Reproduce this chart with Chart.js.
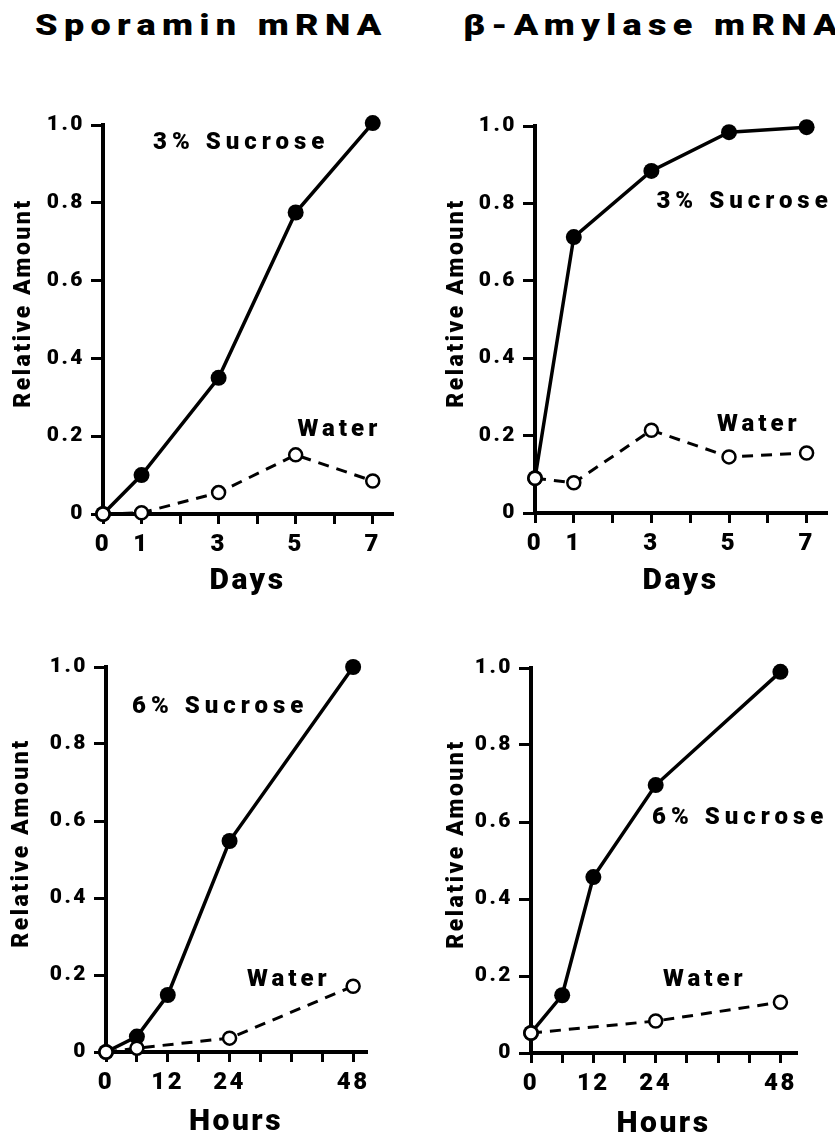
<!DOCTYPE html>
<html>
<head>
<meta charset="utf-8">
<title>Sporamin and β-Amylase mRNA</title>
<script src="https://cdn.jsdelivr.net/npm/chart.js@4.4.1/dist/chart.umd.min.js"></script>
<style>
    html, body { margin: 0; padding: 0; background: #fff; }
    body { width: 835px; height: 1138px; position: relative; overflow: hidden; }
    .title {
        position: absolute;
        font-family: Roboto, "Liberation Sans", sans-serif;
        font-weight: 900;
        font-size: 30px;
        line-height: 30px;
        letter-spacing: 5.3px;
        white-space: nowrap;
        color: #000;
        transform: scaleX(1.2);
        transform-origin: left top;
    }
    canvas { position: absolute; }
</style>
</head>
<body>
<div class="title" style="left:35px; top:10px;">Sporamin mRNA</div>
<div class="title" style="left:463px; top:10px;">β-Amylase mRNA</div>

<canvas id="sporaminDays" width="418" height="510" style="left:0; top:95px;"></canvas>
<canvas id="amylaseDays" width="415" height="510" style="left:420px; top:95px;"></canvas>
<canvas id="sporaminHours" width="418" height="505" style="left:0; top:637px;"></canvas>
<canvas id="amylaseHours" width="415" height="505" style="left:420px; top:637px;"></canvas>

<script>
// x values
const days = [0, 1, 3, 5, 7];
const hours = [0, 6, 12, 24, 48];
const sporaminHoursWaterX = [0, 6, 24, 48];
const amylaseHoursWaterX = [0, 24, 48];

// relative amounts
const sporaminDaysSucrose = [0, 0.10, 0.35, 0.775, 1.005];
const sporaminDaysWater = [0, 0.003, 0.055, 0.152, 0.085];
const amylaseDaysSucrose = [0.09, 0.713, 0.884, 0.984, 0.997];
const amylaseDaysWater = [0.09, 0.078, 0.214, 0.145, 0.155];
const sporaminHoursSucrose = [0, 0.04, 0.148, 0.548, 1.0];
const sporaminHoursWater = [0, 0.01, 0.036, 0.171];
const amylaseHoursSucrose = [0.052, 0.15, 0.457, 0.696, 0.99];
const amylaseHoursWater = [0.052, 0.083, 0.132];

// labelled ticks
const dayTickLabels = [0, 1, 3, 5, 7];
const hourTickLabels = [0, 12, 24, 48];

const FONT = 'Roboto, "Liberation Sans", sans-serif';
const WEIGHT = 900;

function toPoints(xs, ys) {
    return xs.map((x, i) => ({ x: x, y: ys[i] }));
}

// the figure's lettering is widely tracked; canvas resets state on resize, so set it each pass
const trackingPlugin = {
    id: 'tracking',
    beforeUpdate(chart, args, opts) { chart.ctx.letterSpacing = opts.px + 'px'; },
    beforeDraw(chart, args, opts) { chart.ctx.letterSpacing = opts.px + 'px'; }
};

// draws the "3% Sucrose" / "Water" captions at data coordinates
const captionPlugin = {
    id: 'captions',
    afterDraw(chart, args, opts) {
        const ctx = chart.ctx;
        const xs = chart.scales.x;
        const ys = chart.scales.y;
        ctx.save();
        ctx.fillStyle = '#000';
        ctx.textAlign = 'left';
        ctx.textBaseline = 'middle';
        (opts.items || []).forEach(item => {
            ctx.font = WEIGHT + ' ' + item.size + 'px ' + FONT;
            ctx.letterSpacing = item.spacing + 'px';
            ctx.fillText(item.text, xs.getPixelForValue(item.x), ys.getPixelForValue(item.y));
        });
        ctx.restore();
    }
};

function makePanel(id, p) {
    const ctx = document.getElementById(id).getContext('2d');
    return new Chart(ctx, {
        type: 'line',
        data: {
            datasets: [
                {
                    label: 'Water',
                    data: p.water,
                    borderColor: '#000',
                    borderWidth: 3,
                    borderDash: [11, 8],
                    pointRadius: 6.5,
                    pointBackgroundColor: '#fff',
                    pointBorderColor: '#000',
                    pointBorderWidth: 2.5,
                    clip: false
                },
                {
                    label: p.sucroseLabel,
                    data: p.sucrose,
                    borderColor: '#000',
                    borderWidth: 3.5,
                    pointRadius: 8,
                    pointBackgroundColor: '#000',
                    pointBorderColor: '#000',
                    pointBorderWidth: 0,
                    clip: false
                }
            ]
        },
        options: {
            responsive: false,
            animation: false,
            events: [],
            layout: { padding: { top: p.padTop, right: p.padRight, bottom: 0, left: 0 } },
            plugins: {
                legend: { display: false },
                tooltip: { enabled: false },
                tracking: { px: 2.5 },
                captions: { items: p.captions }
            },
            scales: {
                x: {
                    type: 'linear',
                    min: 0,
                    max: p.xMax,
                    afterFit: s => { s.height = p.xAxisHeight; },
                    border: { display: true, color: '#000', width: 4 },
                    grid: { drawOnChartArea: false, drawTicks: true, tickLength: 10, color: '#000', lineWidth: 3 },
                    ticks: {
                        stepSize: p.xStep,
                        includeBounds: false,
                        autoSkip: false,
                        maxRotation: 0,
                        padding: 7,
                        color: '#000',
                        font: { family: FONT, weight: WEIGHT, size: 24 },
                        callback: v => p.xLabels.includes(v) ? String(v) : ''
                    },
                    title: {
                        display: true,
                        text: p.xTitle,
                        color: '#000',
                        font: { family: FONT, weight: WEIGHT, size: 30 },
                        padding: { top: 0, bottom: p.xTitlePad }
                    }
                },
                y: {
                    type: 'linear',
                    min: 0,
                    max: 1,
                    afterFit: s => { s.width = p.yAxisWidth; },
                    border: { display: true, color: '#000', width: 4 },
                    grid: { drawOnChartArea: false, drawTicks: true, tickLength: 12, color: '#000', lineWidth: 3 },
                    ticks: {
                        stepSize: 0.2,
                        padding: 6,
                        color: '#000',
                        font: { family: FONT, weight: WEIGHT, size: 21 },
                        callback: v => v === 0 ? '0' : v.toFixed(1)
                    },
                    title: {
                        display: true,
                        text: '    Relative Amount',
                        color: '#000',
                        font: { family: FONT, weight: WEIGHT, size: 23 },
                        padding: { top: p.yTitlePad, bottom: 0 }
                    }
                }
            }
        },
        plugins: [trackingPlugin, captionPlugin]
    });
}

makePanel('sporaminDays', {
    water: toPoints(days, sporaminDaysWater),
    sucrose: toPoints(days, sporaminDaysSucrose),
    sucroseLabel: '3% Sucrose',
    xMax: 7.5, xStep: 1, xLabels: dayTickLabels, xTitle: 'Days',
    padTop: 30, padRight: 26, yAxisWidth: 103, xAxisHeight: 91,
    xTitlePad: 6, yTitlePad: 10,
    captions: [
        { text: '3% Sucrose', x: 1.3, y: 0.954, size: 24, spacing: 5 },
        { text: 'Water', x: 5.05, y: 0.216, size: 24, spacing: 4 }
    ]
});

makePanel('amylaseDays', {
    water: toPoints(days, amylaseDaysWater),
    sucrose: toPoints(days, amylaseDaysSucrose),
    sucroseLabel: '3% Sucrose',
    xMax: 7.5, xStep: 1, xLabels: dayTickLabels, xTitle: 'Days',
    padTop: 31, padRight: 8, yAxisWidth: 115, xAxisHeight: 92,
    xTitlePad: 6, yTitlePad: 23,
    captions: [
        { text: '3% Sucrose', x: 3.13, y: 0.804, size: 24, spacing: 5 },
        { text: 'Water', x: 4.69, y: 0.227, size: 24, spacing: 4 }
    ]
});

makePanel('sporaminHours', {
    water: toPoints(sporaminHoursWaterX, sporaminHoursWater),
    sucrose: toPoints(hours, sporaminHoursSucrose),
    sucroseLabel: '6% Sucrose',
    xMax: 50.5, xStep: 6, xLabels: hourTickLabels, xTitle: 'Hours',
    padTop: 30, padRight: 52, yAxisWidth: 106, xAxisHeight: 90,
    xTitlePad: 2, yTitlePad: 8,
    captions: [
        { text: '6% Sucrose', x: 5.06, y: 0.896, size: 24, spacing: 5 },
        { text: 'Water', x: 27.4, y: 0.187, size: 24, spacing: 4 }
    ]
});

makePanel('amylaseHours', {
    water: toPoints(amylaseHoursWaterX, amylaseHoursWater),
    sucrose: toPoints(hours, amylaseHoursSucrose),
    sucroseLabel: '6% Sucrose',
    xMax: 51, xStep: 6, xLabels: hourTickLabels, xTitle: 'Hours',
    padTop: 31, padRight: 39, yAxisWidth: 111, xAxisHeight: 89,
    xTitlePad: 0, yTitlePad: 23,
    captions: [
        { text: '6% Sucrose', x: 23.3, y: 0.61, size: 24, spacing: 5 },
        { text: 'Water', x: 25.4, y: 0.19, size: 24, spacing: 4 }
    ]
});
</script>
</body>
</html>
